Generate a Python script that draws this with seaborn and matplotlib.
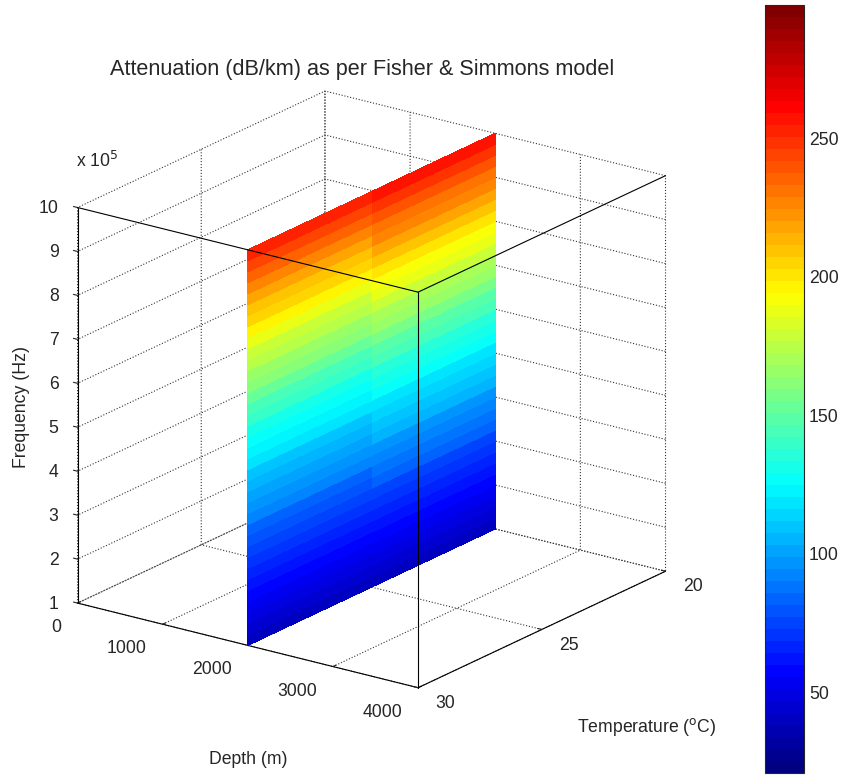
import matplotlib
matplotlib.use('Agg')
import numpy as np
import matplotlib.pyplot as plt
from matplotlib.colors import LinearSegmentedColormap, Normalize
import seaborn as sns

# slice of the attenuation volume at one depth
slice_depth = 2000
depth_ticks = [0, 1000, 2000, 3000, 4000]
temp_c = [20, 25, 30]
temp_ticks = [20, 25, 30]
freq_1e5 = [1.0, 1.25, 1.5, 1.75, 2.0, 2.25, 2.5, 2.75, 3.0, 3.25,
            3.5, 3.75, 4.0, 4.25, 4.5, 4.75, 5.0, 5.25, 5.5, 5.75,
            6.0, 6.25, 6.5, 6.75, 7.0, 7.25, 7.5, 7.75, 8.0, 8.25,
            8.5, 8.75, 9.0, 9.25, 9.5, 9.75, 10.0]
freq_ticks = [1, 2, 3, 4, 5, 6, 7, 8, 9, 10]

# attenuation in dB/km
atten_t20 = [40, 43, 47, 51, 55, 60, 65, 70, 75, 80,
             86, 91, 97, 102, 108, 113, 119, 125, 131, 137,
             143, 149, 156, 163, 170, 177, 185, 192, 200, 208,
             216, 224, 232, 240, 249, 257, 266]
atten_t25 = [39, 42, 46, 50, 54, 59, 63, 68, 73, 78,
             83, 89, 94, 99, 104, 110, 115, 121, 126, 132,
             138, 144, 151, 158, 165, 172, 180, 187, 195, 203,
             210, 218, 226, 234, 242, 250, 259]
atten_t30 = [38, 41, 45, 49, 53, 58, 62, 67, 72, 77,
             82, 87, 92, 97, 102, 107, 112, 117, 123, 128,
             134, 140, 147, 154, 161, 168, 175, 182, 190, 197,
             205, 212, 220, 228, 236, 244, 252]

cbar_ticks = [50, 100, 150, 200, 250]
clim = (21, 298)

sns.set_style('white')
plt.rcParams['font.family'] = ['Liberation Sans', 'DejaVu Sans']
plt.rcParams['grid.linestyle'] = ':'
plt.rcParams['grid.color'] = '0.2'
plt.rcParams['grid.linewidth'] = 0.8

# MATLAB-style jet, 64 steps
jet_nodes = [(0.0, (0, 0, 0.5)), (0.125, (0, 0, 1)), (0.375, (0, 1, 1)),
             (0.625, (1, 1, 0)), (0.875, (1, 0, 0)), (1.0, (0.5, 0, 0))]
cmap = LinearSegmentedColormap.from_list('jet64', jet_nodes, N=64)
norm = Normalize(*clim)

fig = plt.figure(figsize=(8.44, 7.76), dpi=100)
ax = fig.add_axes([-0.0117, -0.0147, 0.88, 1.0], projection='3d')
ax.set_proj_type('ortho')
ax.set_box_aspect((1, 1, 1), zoom=0.953)
ax.computed_zorder = False

T, F = np.meshgrid(temp_c, freq_1e5)
D = np.full_like(T, slice_depth, dtype=float)
V = np.column_stack([atten_t20, atten_t25, atten_t30]).astype(float)
# one colour per facet: mean of its four corners
Vc = (V[:-1, :-1] + V[1:, :-1] + V[:-1, 1:] + V[1:, 1:]) / 4
ax.plot_surface(D, T, F, facecolors=cmap(norm(Vc)), shade=False,
                linewidth=0, antialiased=False, rstride=1, cstride=1, zorder=1)

ax.set_xlim(depth_ticks[0], depth_ticks[-1])
ax.set_ylim(temp_ticks[-1], temp_ticks[0])
ax.set_zlim(freq_ticks[0], freq_ticks[-1])
ax.set_xticks(depth_ticks)
ax.set_yticks(temp_ticks)
ax.set_zticks(freq_ticks)
ax.view_init(elev=20, azim=-54)
ax.grid(True)
for a in (ax.xaxis, ax.yaxis, ax.zaxis):
    a.set_pane_color((1, 1, 1, 0))
    a.pane.set_edgecolor('black')
    a.pane.set_linewidth(0.8)
    a.line.set_color('black')
    a.line.set_linewidth(0.8)
    a._axinfo['tick']['inward_factor'] = 0.0
    a._axinfo['tick']['outward_factor'] = 0.15
ax.zaxis.set_ticks_position('upper')
ax.tick_params(axis='x', labelsize=12.7, pad=10)
ax.tick_params(axis='y', labelsize=12.7, pad=6)
ax.tick_params(axis='z', labelsize=12.7, pad=1)
for lbl in ax.get_xticklabels():
    lbl.set_ha('right')
    lbl.set_va('bottom')
for lbl in ax.get_yticklabels():
    lbl.set_ha('left')
    lbl.set_va('bottom')
for lbl in ax.get_zticklabels():
    lbl.set_ha('right')
    lbl.set_va('center')

# front edges of the box
xf, yf = depth_ticks[-1], temp_ticks[-1]
z0, z1 = freq_ticks[0], freq_ticks[-1]
for xs, ys, zs in [([depth_ticks[0], xf], [yf, yf], [z1, z1]),
                   ([xf, xf], [temp_ticks[0], yf], [z1, z1]),
                   ([xf, xf], [yf, yf], [z0, z1])]:
    ax.plot(xs, ys, zs, color='black', lw=0.8, zorder=3)

fig.text(0.429, 1 - 75 / 776, 'Attenuation (dB/km) as per Fisher & Simmons model',
         ha='center', va='baseline', fontsize=15.6)
fig.text(22 / 844, 1 - 407 / 776, 'Frequency (Hz)', rotation=90,
         ha='center', va='center', fontsize=12.7)
fig.text(76 / 844, 1 - 167 / 776, r'x 10$^5$', ha='left', va='baseline', fontsize=12.7)
fig.text(248 / 844, 1 - 760 / 776, 'Depth (m)', ha='center', va='center', fontsize=12.7)
fig.text(577 / 844, 1 - 727 / 776, r'Temperature ($^{\rm o}$C)', ha='left', va='center',
         fontsize=12.7)

cax = fig.add_axes([765 / 844, 3 / 776, 39 / 844, 768 / 776])
sm = plt.cm.ScalarMappable(norm=norm, cmap=cmap)
cb = fig.colorbar(sm, cax=cax, ticks=cbar_ticks)
cb.ax.tick_params(labelsize=12.7, direction='in', left=True, right=True, length=6)
cb.outline.set_linewidth(0.8)

fig.savefig('out.png', dpi=100)
